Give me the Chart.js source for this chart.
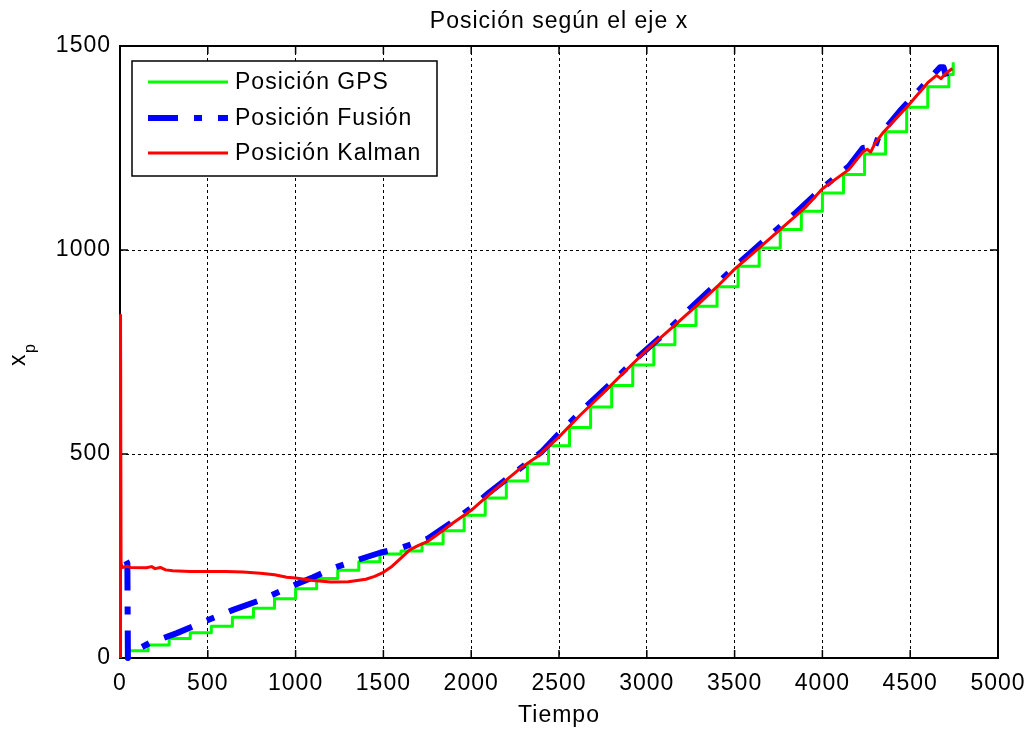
<!DOCTYPE html>
<html>
<head>
<meta charset="utf-8">
<script src="https://cdn.jsdelivr.net/npm/chart.js@4.4.0/dist/chart.umd.min.js"></script>
<style>
  html, body { margin: 0; padding: 0; background: #fff; }
  #wrap { width: 1028px; height: 729px; }
</style>
</head>
<body>
<div id="wrap"><canvas id="chart" width="1028" height="729"></canvas></div>
<script>
// Posición según el eje x: GPS (escalones), fusión y Kalman.
const xTicks = [0, 500, 1000, 1500, 2000, 2500, 3000, 3500, 4000, 4500, 5000];
const yTicks = [0, 500, 1000, 1500];

const gpsT = [30, 45, 160, 280, 400, 520, 640, 760, 880, 1000, 1120, 1240, 1360, 1480, 1600, 1720, 1840, 1960,
  2080, 2200, 2320, 2440, 2560, 2680, 2800, 2920, 3040, 3160, 3280, 3400, 3520, 3640, 3760, 3880, 4000, 4120,
  4240, 4360, 4480, 4600, 4720, 4745];
const gpsV = [0, 18, 32, 48, 62, 78, 100, 122, 145, 170, 195, 215, 236, 255, 262, 280, 312, 350,
  392, 434, 476, 520, 565, 615, 668, 718, 768, 815, 862, 910, 960, 1005, 1050, 1095, 1140, 1185,
  1235, 1290, 1350, 1400, 1430, 1460];

const fusionT = [35, 42, 45, 60, 170, 324, 473, 644, 800, 951, 1100, 1213, 1350, 1481, 1600, 1750, 1880, 2000,
  2100, 2250, 2400, 2500, 2650, 2800, 2950, 3100, 3250, 3400, 3550, 3700, 3850, 4000, 4150, 4230, 4260, 4290,
  4320, 4450, 4600, 4670, 4690, 4705];
const fusionV = [238, 232, 0, 12, 37, 61, 88, 118, 142, 171, 198, 220, 240, 258, 270, 292, 330, 368,
  405, 455, 505, 550, 615, 675, 738, 795, 858, 918, 978, 1035, 1092, 1152, 1205, 1250, 1252, 1242,
  1278, 1345, 1415, 1448, 1448, 1425];

const kalmanT = [3, 3, 6, 12, 40, 60, 150, 180, 200, 230, 260, 300, 400, 500, 600, 700, 800, 880, 950, 1000,
  1100, 1200, 1300, 1400, 1450, 1500, 1550, 1600, 1650, 1700, 1750, 1800, 1880, 2000, 2100, 2180, 2280, 2375,
  2500, 2620, 2750, 2870, 3000, 3150, 3300, 3400, 3500, 3640, 3780, 3900, 4000, 4150, 4230, 4255, 4275, 4300,
  4350, 4490, 4600, 4650, 4675, 4700, 4740];
const kalmanV = [0, 840, 232, 222, 225, 222, 221, 224, 219, 222, 216, 214, 212, 212, 212, 211, 208, 204, 198, 196,
  190, 186, 187, 193, 200, 210, 225, 245, 265, 276, 285, 300, 326, 362, 400, 429, 465, 493,
  542, 595, 649, 700, 755, 812, 870, 910, 953, 1005, 1058, 1103, 1150, 1197, 1240, 1247, 1240, 1262,
  1290, 1355, 1410, 1428, 1420, 1432, 1445];

const seriesNames = ['Posición GPS', 'Posición Fusión', 'Posición Kalman'];

const FONT = "'Liberation Sans', Arial, sans-serif";
const FSIZE = 23;
const pts = (ts, vs) => ts.map((t, i) => ({ x: t, y: vs[i] }));

const matlabFrame = {
  id: 'matlabFrame',
  beforeDraw(chart) {
    chart.ctx.letterSpacing = '1px';
  },
  beforeDatasetsDraw(chart) {
    const { ctx, chartArea: a, scales: { x, y } } = chart;
    ctx.save();
    // inward tick marks on all four sides, then the axes box
    ctx.strokeStyle = '#000';
    ctx.lineWidth = 1.5;
    ctx.setLineDash([]);
    ctx.beginPath();
    xTicks.forEach(v => {
      const px = x.getPixelForValue(v);
      ctx.moveTo(px, a.bottom); ctx.lineTo(px, a.bottom - 8);
      ctx.moveTo(px, a.top); ctx.lineTo(px, a.top + 8);
    });
    yTicks.forEach(v => {
      const py = y.getPixelForValue(v);
      ctx.moveTo(a.left, py); ctx.lineTo(a.left + 8, py);
      ctx.moveTo(a.right, py); ctx.lineTo(a.right - 8, py);
    });
    ctx.stroke();
    ctx.lineWidth = 2;
    ctx.strokeRect(a.left, a.top, a.right - a.left, a.bottom - a.top);
    ctx.restore();
  },
  afterDatasetsDraw(chart) {
    const { ctx } = chart;
    ctx.save();
    // legend box, top-left inside the axes
    const lx = 132, ly = 61, lw = 305, lh = 115;
    ctx.fillStyle = '#fff';
    ctx.fillRect(lx, ly, lw, lh);
    ctx.strokeStyle = '#000';
    ctx.lineWidth = 1.5;
    ctx.strokeRect(lx, ly, lw, lh);
    const rows = [82, 118, 153];
    chart.data.datasets.forEach((ds, i) => {
      const ry = rows[i];
      ctx.save();
      ctx.strokeStyle = ds.borderColor;
      ctx.lineWidth = ds.borderWidth;
      ctx.lineCap = 'butt';
      ctx.setLineDash(ds.borderDash || []);
      ctx.beginPath();
      ctx.moveTo(148, ry); ctx.lineTo(228, ry);
      ctx.stroke();
      ctx.restore();
      ctx.fillStyle = '#000';
      ctx.font = FSIZE + 'px ' + FONT;
      ctx.textAlign = 'left';
      ctx.textBaseline = 'middle';
      ctx.fillText(ds.label, 235, ry + 1);
    });
    ctx.restore();
  },
  afterDraw(chart) {
    const { ctx, chartArea: a } = chart;
    const cx = (a.left + a.right) / 2;
    ctx.save();
    ctx.fillStyle = '#000';
    ctx.font = FSIZE + 'px ' + FONT;
    ctx.textAlign = 'center';
    ctx.textBaseline = 'middle';
    ctx.fillText('Posición según el eje x', cx, 22);
    ctx.fillText('Tiempo', cx, 716);
    // y label x_p, rotated
    ctx.translate(25, 366);
    ctx.rotate(-Math.PI / 2);
    ctx.textAlign = 'left';
    ctx.textBaseline = 'alphabetic';
    ctx.fillText('x', 0, 0);
    ctx.font = '16px ' + FONT;
    ctx.fillText('p', 13, 10);
    ctx.restore();
  }
};

new Chart(document.getElementById('chart'), {
  type: 'line',
  data: {
    datasets: [
      {
        label: seriesNames[0], data: pts(gpsT, gpsV), stepped: true,
        borderColor: '#00ff00', borderWidth: 3, order: 3, clip: false
      },
      {
        label: seriesNames[1], data: pts(fusionT, fusionV),
        borderColor: '#0000ff', borderWidth: 6, borderDash: [30, 16, 8, 16], borderCapStyle: 'butt',
        order: 2, clip: false
      },
      {
        label: seriesNames[2], data: pts(kalmanT, kalmanV),
        borderColor: '#ff0000', borderWidth: 3, order: 1, clip: false
      }
    ]
  },
  options: {
    responsive: false,
    animation: false,
    events: [],
    devicePixelRatio: 1,
    layout: { padding: { top: 46, right: 30, left: 0, bottom: 0 } },
    elements: { point: { radius: 0 }, line: { tension: 0, borderJoinStyle: 'round' } },
    plugins: { legend: { display: false }, tooltip: { enabled: false }, title: { display: false } },
    scales: {
      x: {
        type: 'linear', min: 0, max: 5000,
        afterBuildTicks: s => { s.ticks = xTicks.map(v => ({ value: v })); },
        afterFit: s => { s.height = 71; s.paddingLeft = 0; s.paddingRight = 0; },
        grid: { color: '#000', lineWidth: 1, drawTicks: false },
        border: { display: false, dash: [3, 3] },
        ticks: {
          color: '#000', padding: 12, maxRotation: 0, font: { family: FONT, size: FSIZE },
          callback: v => String(v)
        }
      },
      y: {
        type: 'linear', min: 0, max: 1500,
        afterBuildTicks: s => { s.ticks = yTicks.map(v => ({ value: v })); },
        afterFit: s => { s.width = 120; s.paddingTop = 0; s.paddingBottom = 0; },
        grid: { color: '#000', lineWidth: 1, drawTicks: false },
        border: { display: false, dash: [3, 3] },
        ticks: {
          color: '#000', padding: 9, font: { family: FONT, size: FSIZE },
          callback: v => String(v)
        }
      }
    }
  },
  plugins: [matlabFrame]
});
</script>
</body>
</html>
